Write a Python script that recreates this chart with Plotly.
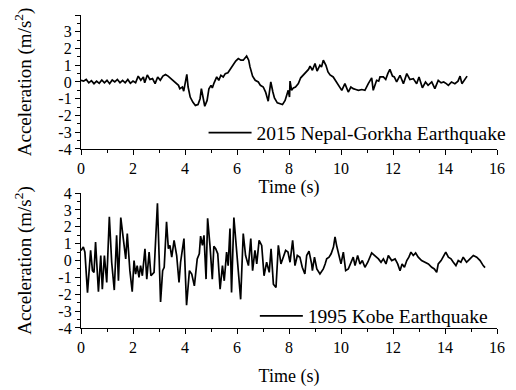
import plotly.graph_objects as go

# 2015 Nepal-Gorkha record (time s, acceleration m/s^2)
nepal_t = [0.0, 0.1, 0.2, 0.3, 0.4, 0.5, 0.6, 0.7, 0.8, 0.9, 1.0, 1.1, 1.2, 1.3, 1.4, 1.5, 1.6, 1.7, 1.8, 1.9,
           2.0, 2.1, 2.2, 2.3, 2.4, 2.45, 2.55, 2.65, 2.75, 2.85, 2.95, 3.05, 3.15, 3.25, 3.35, 3.45, 3.55, 3.65,
           3.75, 3.8, 3.9, 3.95, 4.02, 4.07, 4.12, 4.2, 4.3, 4.4, 4.5, 4.58, 4.63, 4.7, 4.76, 4.85, 4.92, 5.0,
           5.05, 5.12, 5.22, 5.3, 5.38, 5.47, 5.55, 5.65, 5.75, 5.86, 5.95, 6.05, 6.15, 6.24, 6.3, 6.37, 6.45,
           6.5, 6.6, 6.7, 6.82, 6.9, 7.01, 7.1, 7.2, 7.3, 7.38, 7.44, 7.55, 7.65, 7.75, 7.85, 7.97, 8.02, 8.04,
           8.1, 8.17, 8.25, 8.36, 8.45, 8.55, 8.68, 8.75, 8.81, 8.9, 9.0, 9.08, 9.19, 9.25, 9.32, 9.42, 9.5,
           9.58, 9.7, 9.83, 9.93, 10.03, 10.15, 10.22, 10.28, 10.38, 10.47, 10.57, 10.67, 10.8, 10.92, 11.05,
           11.18, 11.24, 11.37, 11.45, 11.5, 11.63, 11.72, 11.8, 11.88, 11.98, 12.05, 12.14, 12.27, 12.4,
           12.53, 12.65, 12.78, 12.91, 13.0, 13.13, 13.25, 13.35, 13.49, 13.61, 13.74, 13.85, 13.95, 14.05,
           14.13, 14.25, 14.38, 14.5, 14.58, 14.65, 14.75, 14.85]
nepal_a = [0.1, 0.05, 0.15, -0.05, 0.08, -0.1, 0.05, -0.08, 0.12, -0.05, 0.1, -0.1, 0.12, 0.0, 0.15, -0.05,
           0.1, -0.05, 0.15, -0.08, 0.05, -0.05, 0.35, 0.1, 0.3, -0.05, 0.42, 0.15, 0.2, -0.1, 0.3, 0.1, 0.35,
           0.45, 0.35, 0.2, 0.1, -0.1, -0.2, -0.4, -0.3, -0.55, 0.0, 0.45, -0.3, -0.9, -1.2, -1.4, -1.35, -1.0,
           -0.4, -1.1, -1.45, -1.1, -0.4, -0.2, -0.35, -0.05, 0.3, 0.1, 0.4, 0.3, 0.5, 0.55, 0.8, 1.0, 1.25,
           1.4, 1.3, 1.3, 1.45, 1.55, 1.3, 0.9, 0.35, 0.1, 0.0, -0.2, -0.3, -0.6, -1.15, 0.0, -0.6, -0.95,
           -1.25, -1.3, -1.35, -1.1, -0.5, -0.9, 0.05, -0.5, -0.35, -0.3, -0.1, 0.25, 0.4, 0.6, 0.75, 0.95,
           0.7, 1.1, 0.65, 1.0, 0.9, 1.3, 1.0, 0.6, 0.42, 0.3, 0.0, -0.2, -0.5, -0.1, -0.4, -0.6, -0.3, -0.4,
           -0.45, -0.5, -0.45, -0.5, -0.1, 0.25, -0.5, 0.1, 0.05, 0.3, 0.3, 0.15, 0.5, 0.75, 0.35, 0.3, 0.0,
           0.4, -0.1, 0.5, 0.15, 0.2, -0.1, 0.3, -0.35, 0.0, -0.2, 0.0, -0.4, 0.1, -0.05, 0.0, -0.1, -0.2,
           0.0, -0.1, 0.05, 0.35, -0.1, 0.15, 0.35]

# 1995 Kobe record (time s, acceleration m/s^2)
kobe_t = [0.0, 0.09, 0.15, 0.25, 0.37, 0.44, 0.5, 0.56, 0.67, 0.76, 0.82, 0.9, 0.99, 1.09, 1.18, 1.28, 1.37,
          1.44, 1.53, 1.6, 1.66, 1.72, 1.78, 1.88, 1.97, 2.04, 2.1, 2.16, 2.23, 2.29, 2.36, 2.46, 2.53, 2.62,
          2.69, 2.81, 2.94, 3.06, 3.14, 3.2, 3.29, 3.36, 3.42, 3.49, 3.58, 3.68, 3.77, 3.83, 3.96, 4.06, 4.17,
          4.26, 4.36, 4.47, 4.55, 4.6, 4.67, 4.73, 4.81, 4.87, 4.96, 5.05, 5.11, 5.18, 5.26, 5.35, 5.44, 5.51,
          5.6, 5.66, 5.73, 5.79, 5.88, 5.99, 6.09, 6.14, 6.24, 6.33, 6.44, 6.53, 6.6, 6.69, 6.76, 6.85, 6.95,
          7.04, 7.14, 7.24, 7.31, 7.4, 7.5, 7.59, 7.69, 7.78, 7.87, 7.96, 8.04, 8.14, 8.23, 8.32, 8.42, 8.51,
          8.61, 8.68, 8.77, 8.87, 8.9, 8.98, 9.07, 9.19, 9.32, 9.39, 9.45, 9.54, 9.62, 9.71, 9.77, 9.83, 9.92,
          10.0, 10.09, 10.18, 10.28, 10.38, 10.47, 10.54, 10.64, 10.73, 10.82, 10.92, 11.03, 11.18, 11.31,
          11.44, 11.54, 11.63, 11.73, 11.82, 11.95, 12.08, 12.18, 12.27, 12.35, 12.44, 12.53, 12.61, 12.69,
          12.78, 12.87, 12.97, 13.1, 13.23, 13.36, 13.49, 13.59, 13.68, 13.74, 13.85, 13.94, 14.03, 14.13,
          14.23, 14.32, 14.42, 14.51, 14.61, 14.7, 14.83, 14.96, 15.09, 15.22, 15.35, 15.47, 15.54]
kobe_a = [0.6, 0.8, 0.5, -1.9, 0.6, -0.6, -0.7, 1.1, -1.85, 0.3, -1.7, 0.3, -1.3, 2.6, -0.1, -1.75, 1.5,
          -1.2, 2.55, 1.65, 0.9, 0.1, 1.6, -0.6, -1.85, 0.0, -0.8, -0.3, -1.0, -0.3, -0.9, 0.7, -1.1, 0.5,
          -0.9, -0.7, 3.4, -2.45, -0.6, -0.4, 2.3, 0.7, 0.9, 0.2, 1.2, 0.3, -1.3, -0.1, 1.3, -2.65, -0.6, -0.8,
          -1.5, 0.1, 0.4, 1.45, 0.9, 1.5, -1.1, 2.5, 0.9, -1.1, 0.85, 0.7, 0.4, -1.7, -0.3, -1.2, 0.5, -0.3,
          1.9, -1.9, 2.55, 0.7, -1.0, -2.3, 1.6, 0.3, -0.3, 1.3, -0.6, 0.6, -0.2, 1.2, 0.9, -0.9, -0.1, -0.7,
          0.7, -1.4, -1.6, 0.9, -0.2, 0.2, 0.6, 0.5, -0.1, 1.2, -0.3, 0.3, 0.2, -0.4, -0.8, 0.3, 0.55, -0.2,
          -0.6, 0.2, -0.5, -0.8, -0.5, -0.2, 0.1, 0.2, 0.4, 0.8, 1.4, 0.9, 0.4, -0.2, 0.5, -0.6, -0.5, -0.1,
          0.2, -0.3, 0.3, -0.2, 0.0, -0.4, -0.1, 0.45, 0.3, 0.1, -0.1, 0.1, -0.2, 0.3, 0.0, 0.1, -0.2, -0.6,
          -0.2, -0.4, 0.0, 0.2, 0.5, 0.3, 0.45, 0.2, 0.0, -0.1, -0.2, -0.4, -0.5, -0.7, -0.2, 0.0, 0.3, 0.5,
          0.2, 0.1, -0.1, -0.3, 0.0, -0.1, 0.2, -0.1, 0.1, 0.3, 0.2, 0.0, -0.3, -0.42]

label_top = "2015 Nepal-Gorkha Earthquake"
label_bottom = "1995 Kobe Earthquake"
x_ticks = [0, 2, 4, 6, 8, 10, 12, 14, 16]
y_ticks = [-4, -3, -2, -1, 0, 1, 2, 3, 4]
y_ticktext = [str(v) for v in y_ticks]

FONT = "Liberation Serif, Times New Roman, serif"

fig = go.Figure()
fig.add_trace(go.Scatter(x=nepal_t, y=nepal_a, mode="lines", name=label_top,
                         line=dict(color="black", width=1.7), xaxis="x", yaxis="y", legend="legend"))
fig.add_trace(go.Scatter(x=kobe_t, y=kobe_a, mode="lines", name=label_bottom,
                         line=dict(color="black", width=1.7), xaxis="x2", yaxis="y2", legend="legend2"))

axis_common = dict(showline=True, linecolor="black", linewidth=1.2, ticks="outside", ticklen=5,
                   tickwidth=1.2, tickcolor="black", showgrid=False, zeroline=False, mirror=False,
                   automargin=True, tickfont=dict(family=FONT, size=16, color="black"))

xaxis_common = dict(axis_common, range=[0, 16], tickvals=x_ticks,
                    minor=dict(ticks="outside", dtick=1, ticklen=3, tickwidth=1.2, tickcolor="black"))
yaxis_common = dict(axis_common, range=[-4, 4], tickvals=y_ticks, ticktext=y_ticktext,
                    minor=dict(ticks="outside", dtick=0.5, ticklen=3, tickwidth=1.2, tickcolor="black"),
                    title=dict(text="Acceleration (m/s<sup>2</sup>)", font=dict(family=FONT, size=19, color="black"),
                               standoff=21))

legend_common = dict(font=dict(family=FONT, size=19.5, color="black"), bgcolor="rgba(0,0,0,0)",
                     borderwidth=0, xanchor="right", yanchor="middle", tracegroupgap=0, itemwidth=43)

xtitle_font = dict(family=FONT, size=18, color="black")

fig.update_layout(
    width=508, height=382,
    margin=dict(l=73, r=19, t=7, b=62, autoexpand=False),
    paper_bgcolor="white", plot_bgcolor="white",
    font=dict(family=FONT, color="black"),
    xaxis=dict(xaxis_common, domain=[0, 1], anchor="y",
               title=dict(text="Time (s)", font=xtitle_font, standoff=4)),
    yaxis=dict(yaxis_common, domain=[0.572, 1.0], anchor="x"),
    xaxis2=dict(xaxis_common, domain=[0, 1], anchor="y2",
                title=dict(text="Time (s)", font=xtitle_font, standoff=14)),
    yaxis2=dict(yaxis_common, domain=[0.0, 0.431], anchor="x2"),
    legend=dict(legend_common, x=1.035, y=0.623),
    legend2=dict(legend_common, x=0.99, y=0.038),
    showlegend=True,
)

fig.write_html("out.html")
